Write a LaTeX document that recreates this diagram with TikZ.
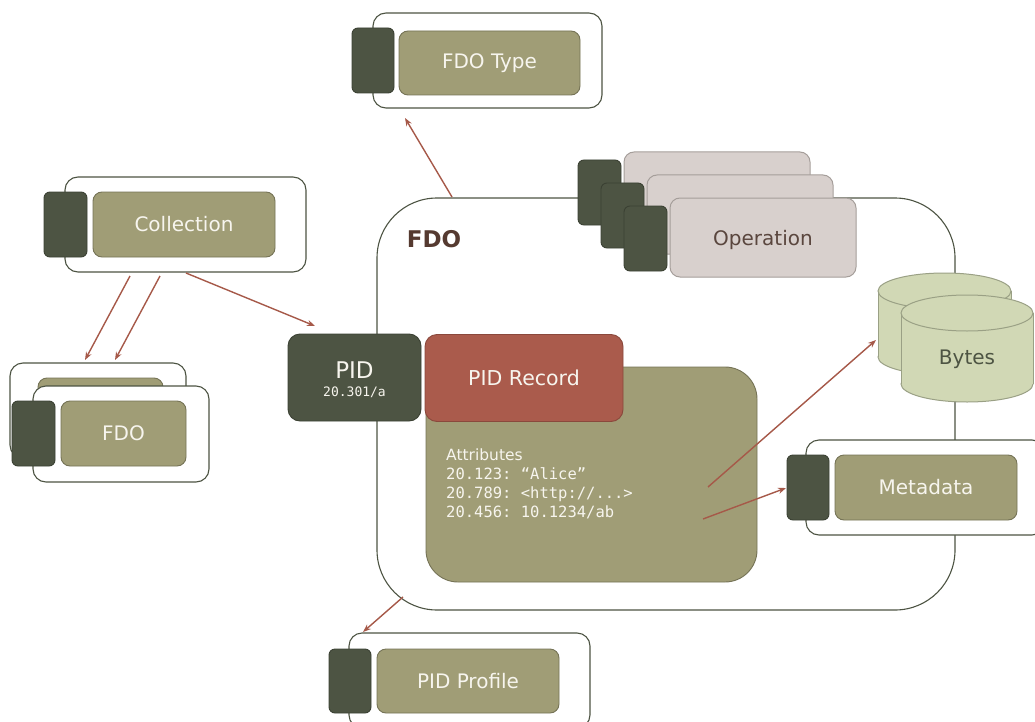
\documentclass[tikz,border=0pt]{standalone}
\usepackage{fontspec}
\setmainfont{DejaVu Sans}
\setmonofont{DejaVu Sans Mono}
\usetikzlibrary{arrows.meta,calc}
\definecolor{darkol}{HTML}{4D5443}
\definecolor{darkolline}{HTML}{3B4133}
\definecolor{olive}{HTML}{A09D76}
\definecolor{oliveline}{HTML}{757356}
\definecolor{recred}{HTML}{AA5B4C}
\definecolor{recredline}{HTML}{8A483C}
\definecolor{arr}{HTML}{A65949}
\definecolor{opfill}{HTML}{D8D0CD}
\definecolor{opline}{HTML}{A59E9A}
\definecolor{optext}{HTML}{5A463E}
\definecolor{byfill}{HTML}{D1D8B5}
\definecolor{byline}{HTML}{9AA085}
\definecolor{wtext}{HTML}{F7F5EE}
\definecolor{fdotext}{HTML}{553A30}
\begin{document}
\begin{tikzpicture}[x=1pt,y=-1pt,
  outerbox/.style={draw=darkol,line width=1.1pt,fill=white,rounded corners=13pt,inner sep=0pt},
  darkbox/.style={draw=darkolline,line width=0.9pt,fill=darkol,rounded corners=6pt,minimum width=43pt,minimum height=65pt,inner sep=0pt},
  olivebox/.style={draw=oliveline,line width=0.9pt,fill=olive,rounded corners=9pt,inner sep=0pt,text=wtext,font=\fontsize{20}{22}\selectfont},
  opbox/.style={draw=opline,line width=1pt,fill=opfill,rounded corners=10pt,minimum width=186pt,minimum height=79pt,inner sep=0pt},
  conn/.style={draw=arr,line width=1.4pt,-{Stealth[length=8pt,width=6pt]}}
]
\useasboundingbox (0,0) rectangle (1035,722);

% main FDO container
\node[draw=darkol,line width=1.1pt,fill=white,rounded corners=60pt,minimum width=578pt,minimum height=412pt,inner sep=0pt] (fdo) at (666,404) {};
\node[font=\bfseries\fontsize{23}{26}\selectfont,text=fdotext] (fdolabel) at (434,239) {FDO};

% FDO Type
\node[outerbox,minimum width=229pt,minimum height=95pt] (typeOuter) at (487.5,60.5) {};
\node[darkbox,minimum width=42pt] (typeDark) at (373,60.5) {};
\node[olivebox,minimum width=181pt,minimum height=64pt] (typeBox) at (489.5,63) {FDO Type};

% Collection
\node[outerbox,minimum width=241pt,minimum height=95pt] (collOuter) at (185.5,224.5) {};
\node[darkbox] (collDark) at (65.5,224.5) {};
\node[olivebox,minimum width=182pt,minimum height=65pt] (collBox) at (184,224.5) {Collection};

% FDO stack (left)
\node[outerbox,minimum width=176pt,minimum height=95pt] (fdoBackOuter) at (98,410.5) {};
\node[olivebox,minimum width=125pt,minimum height=65pt] (fdoBackBox) at (100.5,410.5) {};
\node[outerbox,minimum width=176pt,minimum height=96pt] (fdoOuter) at (121,434) {};
\node[darkbox] (fdoDark) at (33.5,433.5) {};
\node[olivebox,minimum width=125pt,minimum height=65pt] (fdoBox) at (123.5,433.5) {FDO};

% Operations
\node[opbox] (opBack) at (717,191.5) {};
\node[darkbox] (opBackDark) at (599.5,192.5) {};
\node[opbox] (opMid) at (740,214.5) {};
\node[darkbox] (opMidDark) at (622.5,215.5) {};
\node[opbox] (opFront) at (763,237.5) {};
\node[text=optext,font=\fontsize{20}{22}\selectfont] (opText) at (763,240) {Operation};
\node[darkbox] (opFrontDark) at (645.5,238.5) {};

% Bytes cylinders
\foreach \cx/\rx/\top/\bot in {944.5/66.5/291/357, 967/66/313/384}{
  \filldraw[fill=byfill,draw=byline,line width=1pt] (\cx,\bot) ellipse [x radius=\rx, y radius=18];
  \fill[byfill] (\cx-\rx,\top) rectangle (\cx+\rx,\bot);
  \draw[byline,line width=1pt] (\cx-\rx,\top) -- (\cx-\rx,\bot) (\cx+\rx,\top) -- (\cx+\rx,\bot);
  \filldraw[fill=byfill,draw=byline,line width=1pt] (\cx,\top) ellipse [x radius=\rx, y radius=18];
}
\node[text=darkol,font=\fontsize{20}{22}\selectfont] (bytes) at (967,359) {Bytes};
\coordinate (bytesIn) at (876,340);

% Metadata
\node[outerbox,minimum width=239pt,minimum height=95pt] (metaOuter) at (925.5,487.5) {};
\node[darkbox,minimum width=42pt] (metaDark) at (808,487.5) {};
\node[olivebox,minimum width=182pt,minimum height=65pt] (metaBox) at (926,487.5) {Metadata};

% PID Profile
\node[outerbox,minimum width=241pt,minimum height=95pt] (profOuter) at (469.5,680.5) {};
\node[darkbox,minimum width=42pt,minimum height=64pt] (profDark) at (350,681) {};
\node[olivebox,minimum width=182pt,minimum height=64pt] (profBox) at (468,681) {PID Profile};

% PID record
\node[draw=oliveline,line width=0.9pt,fill=olive,rounded corners=32pt,minimum width=331pt,minimum height=215pt,inner sep=0pt] (rec) at (591.5,474.5) {};
\node[draw=recredline,line width=0.9pt,fill=recred,rounded corners=12pt,minimum width=198pt,minimum height=87pt,inner sep=0pt,text=wtext,font=\fontsize{20.5}{24}\selectfont] (recHead) at (524,378) {PID Record};
\node[draw=darkolline,line width=0.9pt,fill=darkol,rounded corners=12pt,minimum width=133pt,minimum height=87pt,inner sep=0pt] (pid) at (354.5,377.5) {};
\node[text=wtext,font=\fontsize{23}{26}\selectfont,inner sep=0pt] (pidName) at (354.5,370) {PID};
\node[text=wtext,font=\ttfamily\fontsize{13}{15}\selectfont,inner sep=0pt] (pidNum) at (354.5,392) {20.301/a};

\node[anchor=north west,inner sep=0pt,text=wtext,align=left,font=\fontsize{15.5}{19}\selectfont] (attrs) at (446,449) {Attributes\\ {\ttfamily 20.123: “Alice”}\\ {\ttfamily 20.789: <http://...>}\\ {\ttfamily 20.456: 10.1234/ab}};

% connectors
\coordinate (a1s) at (452,197); \coordinate (a1e) at (405,118);
\draw[conn] (a1s) -- (a1e);
\coordinate (c1s) at (130,276); \coordinate (c1e) at (85,360);
\coordinate (c2s) at (160,276); \coordinate (c2e) at (115,360);
\coordinate (c3s) at (186,273); \coordinate (c3e) at (315,326);
\draw[conn] (c1s) -- (c1e);
\draw[conn] (c2s) -- (c2e);
\draw[conn] (c3s) -- (c3e);
\coordinate (b1s) at (708,487);
\draw[conn] (b1s) -- (bytesIn);
\coordinate (m1s) at (703,519); \coordinate (m1e) at (786,488);
\draw[conn] (m1s) -- (m1e);
\coordinate (p1s) at (403,597); \coordinate (p1e) at (363,632);
\draw[conn] (p1s) -- (p1e);
\end{tikzpicture}
\end{document}
